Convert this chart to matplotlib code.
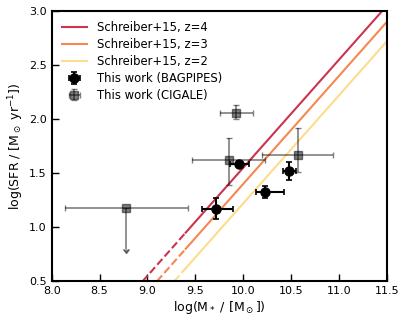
import numpy as np
import matplotlib
matplotlib.use("Agg")
import matplotlib.pyplot as plt

# Schreiber+15 main-sequence relations
ms_labels = ["Schreiber+15, z=4", "Schreiber+15, z=3", "Schreiber+15, z=2"]
ms_colors = ["#cc3350", "#f6874f", "#fddc8c"]
ms_x_start = [8.95, 9.10, 9.28]
ms_y_start = [0.50, 0.50, 0.50]
ms_x_break = [9.40, 9.40, 9.40]
ms_y_break = [0.95, 0.80, 0.62]
ms_x_end = [11.45, 11.50, 11.50]
ms_y_end = [3.00, 2.90, 2.72]

# This work (BAGPIPES)
bag_x = [9.72, 9.96, 10.23, 10.48]
bag_y = [1.17, 1.59, 1.33, 1.52]
bag_xerr_lo = [0.15, 0.10, 0.10, 0.06]
bag_xerr_hi = [0.17, 0.10, 0.20, 0.07]
bag_yerr_lo = [0.09, 0.02, 0.06, 0.085]
bag_yerr_hi = [0.10, 0.02, 0.05, 0.08]

# This work (CIGALE)
cig_x = [8.78, 9.93, 9.85, 10.57]
cig_y = [1.18, 2.06, 1.62, 1.67]
cig_xerr_lo = [0.64, 0.17, 0.38, 0.37]
cig_xerr_hi = [0.64, 0.17, 0.38, 0.37]
cig_yerr_lo = [0.38, 0.06, 0.225, 0.16]
cig_yerr_hi = [0.0, 0.075, 0.21, 0.25]
cig_uplim = [True, False, False, False]

fig = plt.figure(figsize=(4.07, 3.24), dpi=100)
ax = fig.add_axes([0.127, 0.132, 0.823, 0.833])

for i in range(3):
    ax.plot([ms_x_start[i], ms_x_break[i]], [ms_y_start[i], ms_y_break[i]],
            ls="--", color=ms_colors[i], lw=1.5)
    ax.plot([ms_x_break[i], ms_x_end[i]], [ms_y_break[i], ms_y_end[i]],
            ls="-", color=ms_colors[i], lw=1.5, label=ms_labels[i])

ax.errorbar(bag_x, bag_y, xerr=[bag_xerr_lo, bag_xerr_hi],
            yerr=[bag_yerr_lo, bag_yerr_hi], fmt="o", color="black",
            ms=6.5, capsize=2, elinewidth=1.5, capthick=1.2,
            label="This work (BAGPIPES)", zorder=5)

ul = np.array(cig_uplim)
ax.errorbar(cig_x, cig_y, xerr=[cig_xerr_lo, cig_xerr_hi],
            yerr=[cig_yerr_lo, cig_yerr_hi],
            uplims=ul, fmt="s", color="black", alpha=0.5, ms=6,
            capsize=2, elinewidth=1.2, capthick=1.0,
            label="This work (CIGALE)", zorder=4)

ax.set_xlim(8.0, 11.5)
ax.set_ylim(0.5, 3.0)
ax.set_xticks([8.0, 8.5, 9.0, 9.5, 10.0, 10.5, 11.0, 11.5])
ax.set_yticks([0.5, 1.0, 1.5, 2.0, 2.5, 3.0])
ax.tick_params(direction="in", length=5, width=1, labelsize=8)
for s in ax.spines.values():
    s.set_linewidth(1.5)

ax.set_xlabel(r"log(M$_*$ / [M$_\odot$])", fontsize=9, labelpad=2)
ax.set_ylabel(r"log(SFR / [M$_\odot$ yr$^{-1}$])", fontsize=9, labelpad=2)

ax.legend(loc="upper left", frameon=False, fontsize=8.4, handlelength=2.2,
          borderaxespad=0.45, labelspacing=0.33, handletextpad=0.8)

fig.savefig("out.png", dpi=100)
